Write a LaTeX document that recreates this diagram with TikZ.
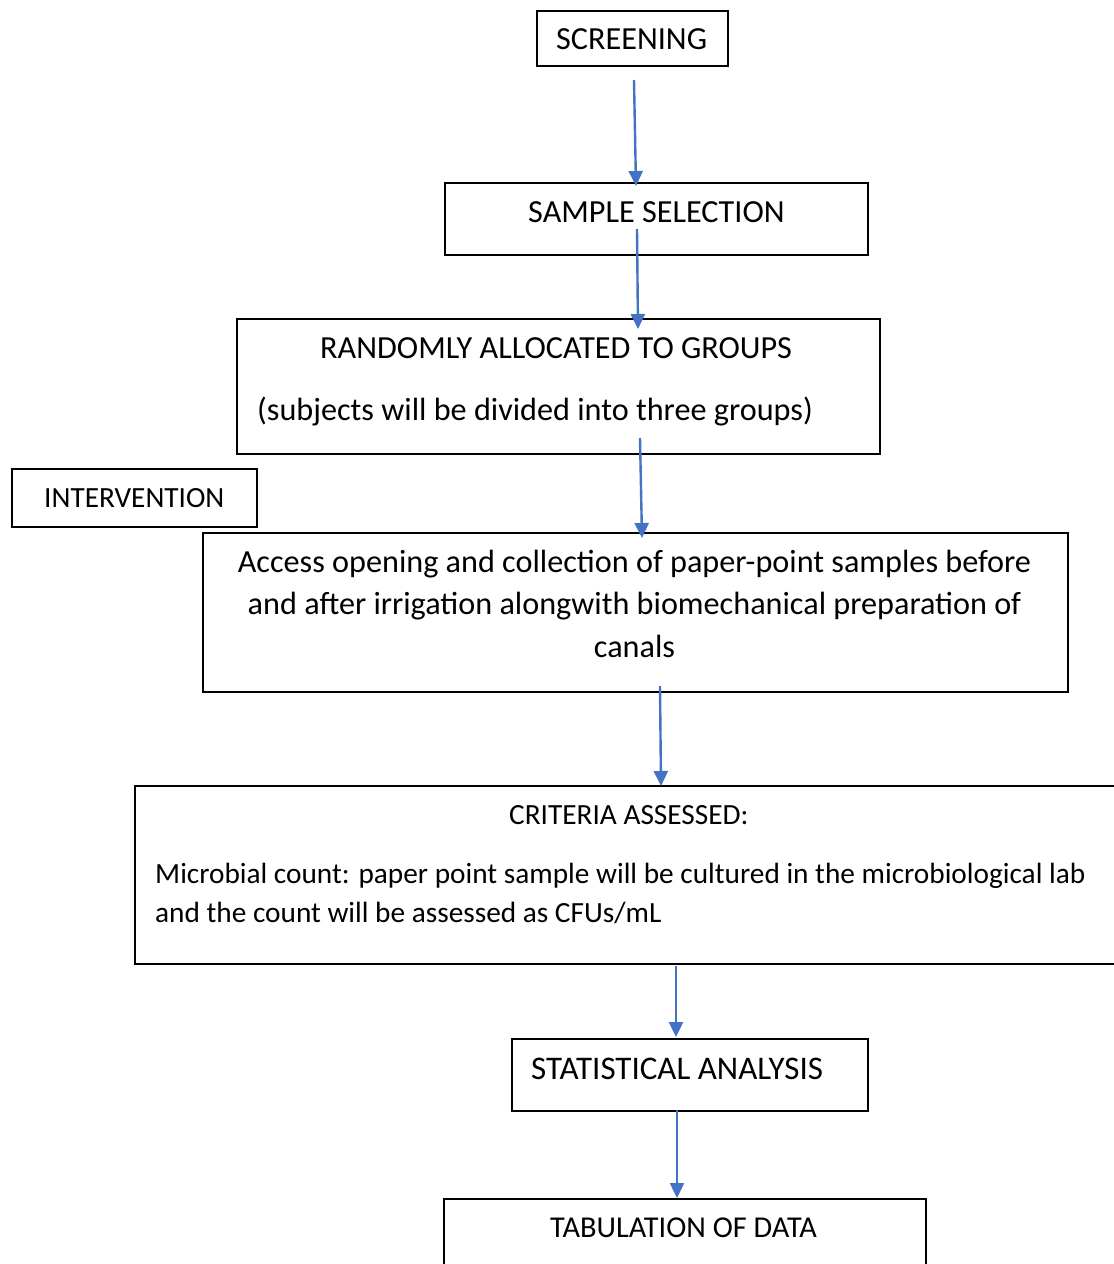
\documentclass[tikz,border=0pt]{standalone}
\usepackage{fontspec}
\setmainfont{Carlito}
\usetikzlibrary{arrows.meta}
\definecolor{arrowblue}{HTML}{4472C4}
\tikzset{
  box/.style={draw=black, line width=1.5pt, rectangle, inner sep=0pt, anchor=north west},
  big/.style={font=\fontsize{32.2}{42.5}\selectfont, inner sep=0pt},
  small/.style={font=\fontsize{29.3}{39}\selectfont, inner sep=0pt},
  arr/.style={draw=arrowblue, line width=2.4pt, -{Triangle[length=15pt,width=14pt]}}
}
\begin{document}
\begin{tikzpicture}[x=1pt,y=-1pt]
\useasboundingbox (0,0) rectangle (1114,1264);
% boxes
\node[box, minimum width=191pt, minimum height=55pt] (b1) at (536,10) {};
\node[box, minimum width=423pt, minimum height=72pt] (b2) at (444,182) {};
\node[box, minimum width=643pt, minimum height=135pt] (b3) at (236,318) {};
\node[box, minimum width=245pt, minimum height=58pt] (b4) at (11,468) {};
\node[box, minimum width=865pt, minimum height=159pt] (b5) at (202,532) {};
\node[box, minimum width=1000pt, minimum height=178pt] (b6) at (134,785) {};
\node[box, minimum width=356pt, minimum height=72pt] (b7) at (511,1038) {};
\node[box, minimum width=482pt, minimum height=120pt] (b8) at (443,1198) {};
% texts
\node[big, anchor=base west] (t1) at (556,49.5) {SCREENING};
\node[big, anchor=base west] (t2) at (528,222) {SAMPLE SELECTION};
\node[big, anchor=base west] (t3a) at (320,358) {RANDOMLY ALLOCATED TO GROUPS};
\node[big, anchor=base west] (t3b) at (257,420) {(subjects will be divided into three groups)};
\node[small, anchor=base west] (t4) at (44,507) {INTERVENTION};
\node[big, anchor=base, align=center] (t5) at (634.5,657) {Access opening and collection of paper-point samples before\\and after irrigation alongwith biomechanical preparation of\\canals};
\node[small, anchor=base west] (t6a) at (509,824) {CRITERIA ASSESSED:};
\node[small, anchor=base west, align=left] (t6b) at (155,922) {Microbial count: paper point sample will be cultured in the microbiological lab\\and the count will be assessed as CFUs/mL};
\node[big, anchor=base west, font=\fontsize{33}{40}\selectfont] (t7) at (531,1079) {STATISTICAL ANALYSIS};
\node[small, anchor=base west, font=\fontsize{30.3}{36}\selectfont] (t8) at (550,1237) {TABULATION OF DATA};
% arrow end points
\coordinate (a1s) at (634,80);   \coordinate (a1e) at (636,186);
\coordinate (a2s) at (637,229);  \coordinate (a2e) at (638,329);
\coordinate (a3s) at (640,438);  \coordinate (a3e) at (642,538);
\coordinate (a4s) at (660,686);  \coordinate (a4e) at (661,786);
\coordinate (a5s) at (676,966);  \coordinate (a5e) at (676,1037);
\coordinate (a6s) at (677,1110); \coordinate (a6e) at (677,1198);
\draw[arr] (a1s) -- (a1e);
\draw[arr] (a2s) -- (a2e);
\draw[arr] (a3s) -- (a3e);
\draw[arr] (a4s) -- (a4e);
\draw[arr] (a5s) -- (a5e);
\draw[arr] (a6s) -- (a6e);
\end{tikzpicture}
\end{document}
